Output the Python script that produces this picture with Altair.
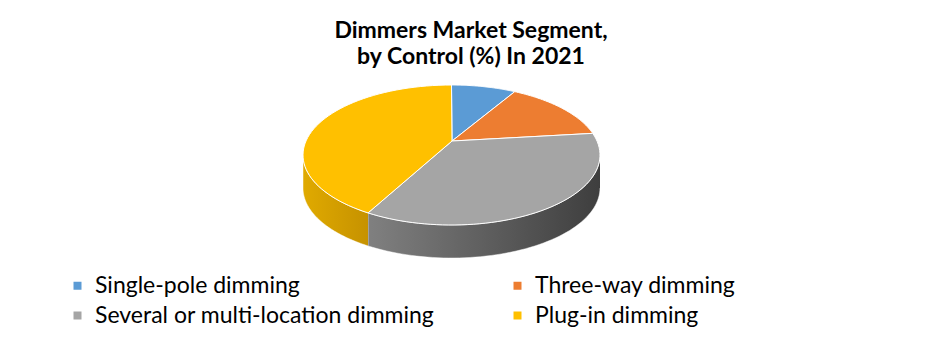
import altair as alt
import pandas as pd

# ---- data ----
categories = ["Single-pole dimming", "Three-way dimming",
              "Several or multi-location dimming", "Plug-in dimming"]
values = [7, 13, 39.5, 40.5]

# ---- styles ----
colors = ["#5B9BD5", "#ED7D31", "#A5A5A5", "#FFC000"]
side_light = ["#4a86bf", "#d66a22", "#808080", "#e0aa00"]
side_dark = ["#2f6aa0", "#b0561a", "#3e3e3e", "#c69200"]

# ---- layout (pixels) ----
W, H, PT = 942, 356, 75
CX, CY, A, B = 451.5, 155, 148.5, 70   # top-face ellipse
AX, AY = 452, 141                      # apex of slices (perspective)
D = 33                                 # depth of the pie side
N = 60

df = pd.DataFrame({"category": categories, "value": values,
                   "idx": list(range(len(categories)))})

xs = alt.Scale(domain=[0, W], nice=False, zero=False)
ys = alt.Scale(domain=[PT, H], nice=False, zero=False, reverse=True)

base = alt.Chart(df).transform_window(
    cum="sum(value)", sort=[alt.SortField("idx")]
).transform_joinaggregate(total="sum(value)")

# side faces (front half only)
side_layers = []
for i in range(len(categories)):
    grad = alt.LinearGradient(
        gradient="linear",
        stops=[alt.GradientStop(color=side_light[i], offset=0),
               alt.GradientStop(color=side_dark[i], offset=1)],
        x1=0, x2=1, y1=0, y2=0)
    s = base.transform_filter(f"datum.idx == {i}").transform_calculate(
        lo="max(2*PI*(datum.cum-datum.value)/datum.total, PI/2)",
        hi="min(2*PI*datum.cum/datum.total, 3*PI/2)",
    ).transform_filter("datum.hi > datum.lo").transform_calculate(
        t=f"sequence(0, {2 * N + 2})"
    ).transform_flatten(["t"]).transform_calculate(
        th=f"datum.t <= {N} ? datum.lo + (datum.hi-datum.lo)*datum.t/{N} : datum.hi - (datum.hi-datum.lo)*(datum.t-{N + 1})/{N}",
        px=f"{CX} + {A}*sin(datum.th)",
        py=f"{CY} - {B}*cos(datum.th) + (datum.t <= {N} ? 0 : {D})",
    ).mark_line(filled=True, fill=grad, stroke="white", strokeWidth=0.6,
                strokeOpacity=0.8).encode(
        x=alt.X("px:Q", scale=xs, axis=None),
        y=alt.Y("py:Q", scale=ys, axis=None),
        order=alt.Order("t:Q"),
    )
    side_layers.append(s)

# top face
top = base.transform_calculate(
    a0="2*PI*(datum.cum-datum.value)/datum.total",
    a1="2*PI*datum.cum/datum.total",
    t=f"sequence(-1, {N + 2})",
).transform_flatten(["t"]).transform_calculate(
    th=f"datum.a0 + (datum.a1-datum.a0)*clamp(datum.t, 0, {N})/{N}",
    px=f"(datum.t < 0 || datum.t > {N}) ? {AX} : {CX} + {A}*sin(datum.th)",
    py=f"(datum.t < 0 || datum.t > {N}) ? {AY} : {CY} - {B}*cos(datum.th)",
).mark_line(filled=True, stroke="white", strokeWidth=1).encode(
    x=alt.X("px:Q", scale=xs, axis=None),
    y=alt.Y("py:Q", scale=ys, axis=None),
    order=alt.Order("t:Q"),
    color=alt.Color("category:N",
                    scale=alt.Scale(domain=categories, range=colors),
                    legend=alt.Legend(orient="none", legendX=66, legendY=199,
                                      columns=2, direction="horizontal",
                                      title=None,
                                      symbolType="square", symbolSize=64,
                                      symbolStrokeWidth=0,
                                      labelFont="Lato", labelFontSize=23,
                                      labelColor="black", labelLimit=600,
                                      labelOffset=6, columnPadding=71,
                                      rowPadding=6)),
)

chart = alt.layer(*side_layers, top).properties(
    width=W, height=H - PT,
    padding={"top": PT, "left": 0, "right": 0, "bottom": 0},
    autosize="none",
    background="white",
    title=alt.TitleParams(["Dimmers Market Segment,", "by Control (%) In 2021"],
                          font="Lato", fontSize=23, fontWeight="bold",
                          color="black", anchor="middle", offset=6,
                          lineHeight=26),
).configure_view(strokeWidth=0)

chart.save("out.html", embed_options={"renderer": "svg", "actions": False})
